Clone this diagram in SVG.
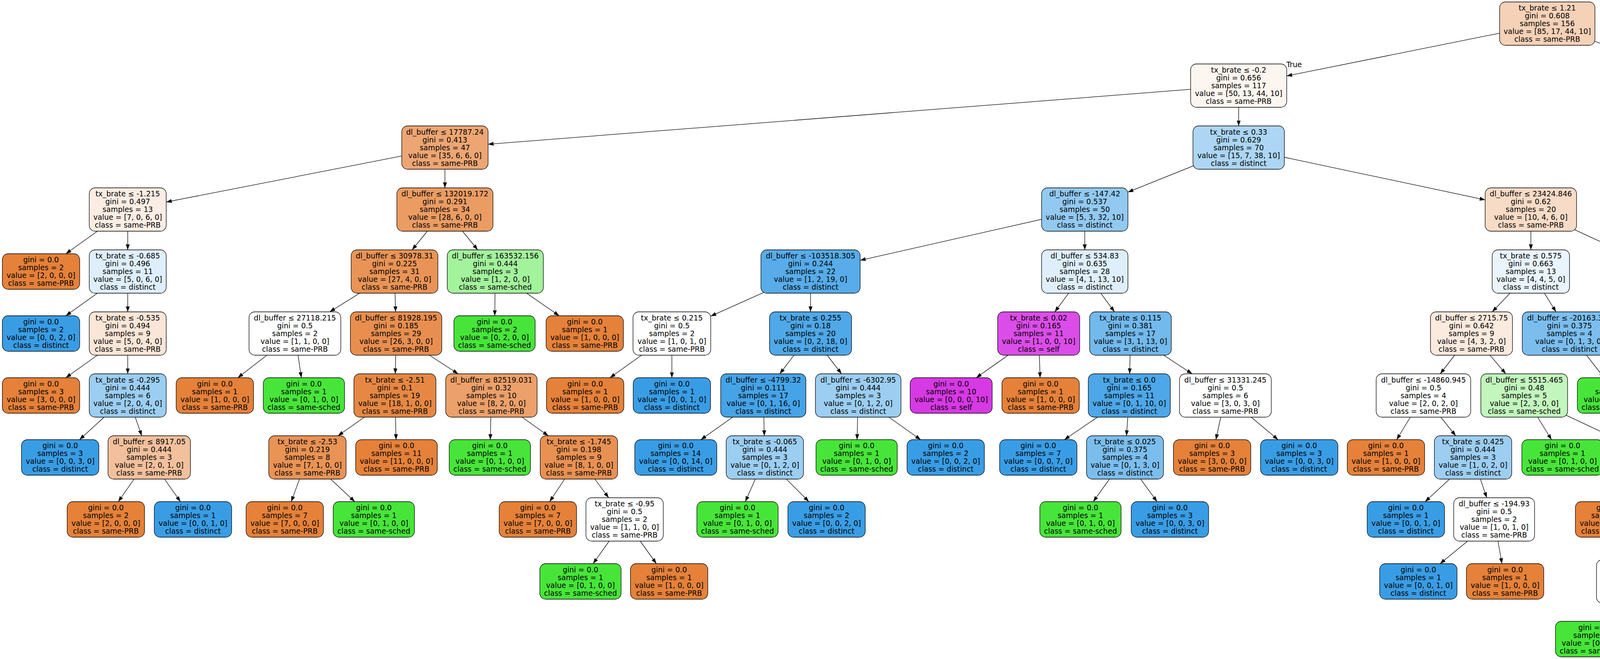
<svg xmlns="http://www.w3.org/2000/svg" width="5503" height="1688" viewBox="0 0 5503 1688">
<style>
text{font-family:"DejaVu Sans","Liberation Sans",sans-serif;font-size:18.67px;text-anchor:middle;fill:#000}
.nd rect{stroke:#000;stroke-width:1.3;rx:15px;ry:15px}
.e line{stroke:#000;stroke-width:1.3;marker-end:url(#ah)}
.o{fill:#e58139}.g{fill:#47e539}.b{fill:#399de5}.m{fill:#d739e5}.w{fill:#fff}
</style>
<defs>
<marker id="ah" viewBox="0 0 14 10" refX="14" refY="5" markerWidth="14" markerHeight="10" markerUnits="userSpaceOnUse" orient="auto"><path d="M0,0L14,5L0,10z" fill="#000"/></marker>
</defs>
<rect width="5503" height="1688" fill="#fff"/>
<g id="edges" class="e">
<line x1="3961" y1="60.5" x2="3294" y2="194.5"/>
<line x1="3961" y1="60.5" x2="4259.5" y2="171.7"/>
<line x1="3171" y1="219.25" x2="1249.5" y2="369.4"/>
<line x1="3171" y1="219.25" x2="3171" y2="322.5"/>
<line x1="1139" y1="378" x2="425.5" y2="517.5"/>
<line x1="1139" y1="378" x2="1139" y2="481.25"/>
<line x1="327" y1="536.75" x2="168.6" y2="650"/>
<line x1="327" y1="536.75" x2="327" y2="640"/>
<line x1="327" y1="695.5" x2="168.6" y2="808.75"/>
<line x1="327" y1="695.5" x2="327" y2="798.75"/>
<line x1="327" y1="854.25" x2="168.6" y2="967.5"/>
<line x1="327" y1="854.25" x2="327" y2="957.5"/>
<line x1="327" y1="1013" x2="203.6" y2="1126.25"/>
<line x1="327" y1="1013" x2="362.8" y2="1116.25"/>
<line x1="382" y1="1171.75" x2="302.8" y2="1285"/>
<line x1="382" y1="1171.75" x2="461.9" y2="1285"/>
<line x1="1139" y1="536.75" x2="1055.1" y2="640"/>
<line x1="1139" y1="536.75" x2="1222.9" y2="640"/>
<line x1="1010" y1="695.5" x2="844.1" y2="798.75"/>
<line x1="1010" y1="695.5" x2="1012.6" y2="798.75"/>
<line x1="755" y1="854.25" x2="608.8" y2="967.5"/>
<line x1="755" y1="854.25" x2="771.4" y2="967.5"/>
<line x1="1014" y1="854.25" x2="1012" y2="957.5"/>
<line x1="1014" y1="854.25" x2="1172.7" y2="957.5"/>
<line x1="1011" y1="1013" x2="865.3" y2="1116.25"/>
<line x1="1011" y1="1013" x2="1013.9" y2="1126.25"/>
<line x1="787" y1="1171.75" x2="745.6" y2="1285"/>
<line x1="787" y1="1171.75" x2="908.3" y2="1285"/>
<line x1="1258" y1="1013" x2="1255.1" y2="1126.25"/>
<line x1="1258" y1="1013" x2="1403.7" y2="1116.25"/>
<line x1="1482" y1="1171.75" x2="1407.1" y2="1285"/>
<line x1="1482" y1="1171.75" x2="1558.1" y2="1275"/>
<line x1="1599" y1="1330.5" x2="1518.4" y2="1443.75"/>
<line x1="1599" y1="1330.5" x2="1680.3" y2="1443.75"/>
<line x1="1268" y1="695.5" x2="1266.6" y2="808.75"/>
<line x1="1268" y1="695.5" x2="1431.4" y2="808.75"/>
<line x1="3171" y1="378" x2="2887.5" y2="492.2"/>
<line x1="3171" y1="378" x2="3802" y2="511.9"/>
<line x1="2777" y1="536.75" x2="2202" y2="666.8"/>
<line x1="2777" y1="536.75" x2="2777" y2="640"/>
<line x1="2075" y1="695.5" x2="1819.5" y2="809.8"/>
<line x1="2075" y1="695.5" x2="2075" y2="798.75"/>
<line x1="1720" y1="854.25" x2="1561.6" y2="967.5"/>
<line x1="1720" y1="854.25" x2="1720" y2="967.5"/>
<line x1="2075" y1="854.25" x2="1996.3" y2="957.5"/>
<line x1="2075" y1="854.25" x2="2154.3" y2="957.5"/>
<line x1="1954" y1="1013" x2="1794.2" y2="1126.25"/>
<line x1="1954" y1="1013" x2="1956.6" y2="1116.25"/>
<line x1="1958" y1="1171.75" x2="1908.1" y2="1285"/>
<line x1="1958" y1="1171.75" x2="2070.7" y2="1285"/>
<line x1="2197" y1="1013" x2="2194.1" y2="1126.25"/>
<line x1="2197" y1="1013" x2="2356.8" y2="1126.25"/>
<line x1="2777" y1="695.5" x2="2700.3" y2="798.75"/>
<line x1="2777" y1="695.5" x2="2853.1" y2="798.75"/>
<line x1="2659" y1="854.25" x2="2499.2" y2="967.5"/>
<line x1="2659" y1="854.25" x2="2662.6" y2="967.5"/>
<line x1="2894" y1="854.25" x2="2892" y2="957.5"/>
<line x1="2894" y1="854.25" x2="3052" y2="957.5"/>
<line x1="2891" y1="1013" x2="2724.8" y2="1126.25"/>
<line x1="2891" y1="1013" x2="2883.8" y2="1116.25"/>
<line x1="2880" y1="1171.75" x2="2798.7" y2="1285"/>
<line x1="2880" y1="1171.75" x2="2962" y2="1285"/>
<line x1="3137" y1="1013" x2="3112.7" y2="1126.25"/>
<line x1="3137" y1="1013" x2="3271.8" y2="1126.25"/>
<line x1="3919" y1="536.75" x2="3919" y2="640"/>
<line x1="3919" y1="536.75" x2="4146" y2="641.5"/>
<line x1="3919" y1="695.5" x2="3820.1" y2="798.75"/>
<line x1="3919" y1="695.5" x2="3983.4" y2="798.75"/>
<line x1="3767" y1="854.25" x2="3687" y2="957.5"/>
<line x1="3767" y1="854.25" x2="3854.8" y2="957.5"/>
<line x1="3644" y1="1013" x2="3575.5" y2="1126.25"/>
<line x1="3644" y1="1013" x2="3726.6" y2="1116.25"/>
<line x1="3771" y1="1171.75" x2="3648.3" y2="1285"/>
<line x1="3771" y1="1171.75" x2="3806.1" y2="1275"/>
<line x1="3825" y1="1330.5" x2="3686.6" y2="1443.75"/>
<line x1="3825" y1="1330.5" x2="3845" y2="1443.75"/>
<line x1="3902" y1="1013" x2="3971.9" y2="1126.25"/>
<line x1="3902" y1="1013" x2="4128" y2="1119.5"/>
<line x1="4239" y1="1171.75" x2="4162.7" y2="1285"/>
<line x1="4239" y1="1171.75" x2="4317.7" y2="1275"/>
<line x1="4360" y1="1330.5" x2="4255.3" y2="1433.75"/>
<line x1="4360" y1="1330.5" x2="4416.4" y2="1443.75"/>
<line x1="4199" y1="1489.25" x2="4120.8" y2="1591.5"/>
<line x1="4199" y1="1489.25" x2="4278.6" y2="1591.5"/>
<line x1="4018" y1="854.25" x2="4106.5" y2="967.5"/>
<line x1="4018" y1="854.25" x2="4271" y2="968.4"/>
<line x1="4263" y1="695.5" x2="4263" y2="808.75"/>
<line x1="4263" y1="695.5" x2="4422.1" y2="808.75"/>
<line x1="4387" y1="219.25" x2="4387" y2="322.5"/>
<line x1="4387" y1="219.25" x2="4700" y2="338.4"/>
<line x1="4387" y1="378" x2="4305" y2="491.25"/>
<line x1="4387" y1="378" x2="4467.6" y2="491.25"/>
<line x1="4804" y1="378" x2="4805.3" y2="481.25"/>
<line x1="4804" y1="378" x2="5071" y2="493.8"/>
<line x1="4806" y1="536.75" x2="4742.3" y2="640"/>
<line x1="4806" y1="536.75" x2="4899.5" y2="650"/>
<line x1="4708" y1="695.5" x2="4708" y2="808.75"/>
<line x1="4708" y1="695.5" x2="4870.7" y2="808.75"/>
<line x1="5170" y1="536.75" x2="5170" y2="650"/>
<line x1="5170" y1="536.75" x2="5331.9" y2="650"/>
</g>
<g id="edge-labels">
<text x="3313" y="171.5">True</text>
<text x="4245" y="149.5">False</text>
</g>
<rect id="black-box" x="4108" y="36" width="74" height="49" rx="15" fill="#000"/>
<g class="nd">
<g id="n0" transform="translate(3961,60.5)"><rect x="-122" y="-55.5" width="244" height="111" fill="#f5d1b7"/><text><tspan x="0" y="-33.5">tx_brate ≤ 1.21</tspan><tspan x="0" y="-13.5">gini = 0.608</tspan><tspan x="0" y="6.5">samples = 156</tspan><tspan x="0" y="26.5">value = [85, 17, 44, 10]</tspan><tspan x="0" y="46.5">class = same-PRB</tspan></text></g>
<g id="n1" transform="translate(3171,219.25)"><rect x="-123" y="-55.5" width="246" height="111" fill="#fdf5ef"/><text><tspan x="0" y="-33.5">tx_brate ≤ -0.2</tspan><tspan x="0" y="-13.5">gini = 0.656</tspan><tspan x="0" y="6.5">samples = 117</tspan><tspan x="0" y="26.5">value = [50, 13, 44, 10]</tspan><tspan x="0" y="46.5">class = same-PRB</tspan></text></g>
<g id="n2" transform="translate(1139,378)"><rect x="-110.5" y="-55.5" width="221" height="111" fill="#eda673"/><text><tspan x="0" y="-33.5">dl_buffer ≤ 17787.24</tspan><tspan x="0" y="-13.5">gini = 0.413</tspan><tspan x="0" y="6.5">samples = 47</tspan><tspan x="0" y="26.5">value = [35, 6, 6, 0]</tspan><tspan x="0" y="46.5">class = same-PRB</tspan></text></g>
<g id="n3" transform="translate(327,536.75)"><rect x="-98.5" y="-55.5" width="197" height="111" fill="#fbede3"/><text><tspan x="0" y="-33.5">tx_brate ≤ -1.215</tspan><tspan x="0" y="-13.5">gini = 0.497</tspan><tspan x="0" y="6.5">samples = 13</tspan><tspan x="0" y="26.5">value = [7, 0, 6, 0]</tspan><tspan x="0" y="46.5">class = same-PRB</tspan></text></g>
<g id="n4" transform="translate(105,695.5)"><rect class="o" x="-99" y="-45.5" width="198" height="91"/><text><tspan x="0" y="-23.5">gini = 0.0</tspan><tspan x="0" y="-3.5">samples = 2</tspan><tspan x="0" y="16.5">value = [2, 0, 0, 0]</tspan><tspan x="0" y="36.5">class = same-PRB</tspan></text></g>
<g id="n5" transform="translate(327,695.5)"><rect x="-98.5" y="-55.5" width="197" height="111" fill="#deeffb"/><text><tspan x="0" y="-33.5">tx_brate ≤ -0.685</tspan><tspan x="0" y="-13.5">gini = 0.496</tspan><tspan x="0" y="6.5">samples = 11</tspan><tspan x="0" y="26.5">value = [5, 0, 6, 0]</tspan><tspan x="0" y="46.5">class = distinct</tspan></text></g>
<g id="n6" transform="translate(105,854.25)"><rect class="b" x="-99" y="-45.5" width="198" height="91"/><text><tspan x="0" y="-23.5">gini = 0.0</tspan><tspan x="0" y="-3.5">samples = 2</tspan><tspan x="0" y="16.5">value = [0, 0, 2, 0]</tspan><tspan x="0" y="36.5">class = distinct</tspan></text></g>
<g id="n7" transform="translate(327,854.25)"><rect x="-98.5" y="-55.5" width="197" height="111" fill="#fae6d7"/><text><tspan x="0" y="-33.5">tx_brate ≤ -0.535</tspan><tspan x="0" y="-13.5">gini = 0.494</tspan><tspan x="0" y="6.5">samples = 9</tspan><tspan x="0" y="26.5">value = [5, 0, 4, 0]</tspan><tspan x="0" y="46.5">class = same-PRB</tspan></text></g>
<g id="n8" transform="translate(105,1013)"><rect class="o" x="-99" y="-45.5" width="198" height="91"/><text><tspan x="0" y="-23.5">gini = 0.0</tspan><tspan x="0" y="-3.5">samples = 3</tspan><tspan x="0" y="16.5">value = [3, 0, 0, 0]</tspan><tspan x="0" y="36.5">class = same-PRB</tspan></text></g>
<g id="n9" transform="translate(327,1013)"><rect x="-98.5" y="-55.5" width="197" height="111" fill="#9ccef2"/><text><tspan x="0" y="-33.5">tx_brate ≤ -0.295</tspan><tspan x="0" y="-13.5">gini = 0.444</tspan><tspan x="0" y="6.5">samples = 6</tspan><tspan x="0" y="26.5">value = [2, 0, 4, 0]</tspan><tspan x="0" y="46.5">class = distinct</tspan></text></g>
<g id="n10" transform="translate(154,1171.75)"><rect class="b" x="-99" y="-45.5" width="198" height="91"/><text><tspan x="0" y="-23.5">gini = 0.0</tspan><tspan x="0" y="-3.5">samples = 3</tspan><tspan x="0" y="16.5">value = [0, 0, 3, 0]</tspan><tspan x="0" y="36.5">class = distinct</tspan></text></g>
<g id="n11" transform="translate(382,1171.75)"><rect x="-105.5" y="-55.5" width="211" height="111" fill="#f2c09c"/><text><tspan x="0" y="-33.5">dl_buffer ≤ 8917.05</tspan><tspan x="0" y="-13.5">gini = 0.444</tspan><tspan x="0" y="6.5">samples = 3</tspan><tspan x="0" y="26.5">value = [2, 0, 1, 0]</tspan><tspan x="0" y="46.5">class = same-PRB</tspan></text></g>
<g id="n12" transform="translate(271,1330.5)"><rect class="o" x="-99" y="-45.5" width="198" height="91"/><text><tspan x="0" y="-23.5">gini = 0.0</tspan><tspan x="0" y="-3.5">samples = 2</tspan><tspan x="0" y="16.5">value = [2, 0, 0, 0]</tspan><tspan x="0" y="36.5">class = same-PRB</tspan></text></g>
<g id="n13" transform="translate(494,1330.5)"><rect class="b" x="-99" y="-45.5" width="198" height="91"/><text><tspan x="0" y="-23.5">gini = 0.0</tspan><tspan x="0" y="-3.5">samples = 1</tspan><tspan x="0" y="16.5">value = [0, 0, 1, 0]</tspan><tspan x="0" y="36.5">class = distinct</tspan></text></g>
<g id="n14" transform="translate(1139,536.75)"><rect x="-123" y="-55.5" width="246" height="111" fill="#eb9c63"/><text><tspan x="0" y="-33.5">dl_buffer ≤ 132019.172</tspan><tspan x="0" y="-13.5">gini = 0.291</tspan><tspan x="0" y="6.5">samples = 34</tspan><tspan x="0" y="26.5">value = [28, 6, 0, 0]</tspan><tspan x="0" y="46.5">class = same-PRB</tspan></text></g>
<g id="n15" transform="translate(1010,695.5)"><rect x="-111" y="-55.5" width="222" height="111" fill="#e99456"/><text><tspan x="0" y="-33.5">dl_buffer ≤ 30978.31</tspan><tspan x="0" y="-13.5">gini = 0.225</tspan><tspan x="0" y="6.5">samples = 31</tspan><tspan x="0" y="26.5">value = [27, 4, 0, 0]</tspan><tspan x="0" y="46.5">class = same-PRB</tspan></text></g>
<g id="n16" transform="translate(755,854.25)"><rect class="w" x="-117.5" y="-55.5" width="235" height="111"/><text><tspan x="0" y="-33.5">dl_buffer ≤ 27118.215</tspan><tspan x="0" y="-13.5">gini = 0.5</tspan><tspan x="0" y="6.5">samples = 2</tspan><tspan x="0" y="26.5">value = [1, 1, 0, 0]</tspan><tspan x="0" y="46.5">class = same-PRB</tspan></text></g>
<g id="n17" transform="translate(550,1013)"><rect class="o" x="-99" y="-45.5" width="198" height="91"/><text><tspan x="0" y="-23.5">gini = 0.0</tspan><tspan x="0" y="-3.5">samples = 1</tspan><tspan x="0" y="16.5">value = [1, 0, 0, 0]</tspan><tspan x="0" y="36.5">class = same-PRB</tspan></text></g>
<g id="n18" transform="translate(778,1013)"><rect class="g" x="-104" y="-45.5" width="208" height="91"/><text><tspan x="0" y="-23.5">gini = 0.0</tspan><tspan x="0" y="-3.5">samples = 1</tspan><tspan x="0" y="16.5">value = [0, 1, 0, 0]</tspan><tspan x="0" y="36.5">class = same-sched</tspan></text></g>
<g id="n19" transform="translate(1014,854.25)"><rect x="-117" y="-55.5" width="234" height="111" fill="#e88f50"/><text><tspan x="0" y="-33.5">dl_buffer ≤ 81928.195</tspan><tspan x="0" y="-13.5">gini = 0.185</tspan><tspan x="0" y="6.5">samples = 29</tspan><tspan x="0" y="26.5">value = [26, 3, 0, 0]</tspan><tspan x="0" y="46.5">class = same-PRB</tspan></text></g>
<g id="n20" transform="translate(1011,1013)"><rect x="-105" y="-55.5" width="210" height="111" fill="#e68844"/><text><tspan x="0" y="-33.5">tx_brate ≤ -2.51</tspan><tspan x="0" y="-13.5">gini = 0.1</tspan><tspan x="0" y="6.5">samples = 19</tspan><tspan x="0" y="26.5">value = [18, 1, 0, 0]</tspan><tspan x="0" y="46.5">class = same-PRB</tspan></text></g>
<g id="n21" transform="translate(787,1171.75)"><rect x="-99" y="-55.5" width="198" height="111" fill="#e99355"/><text><tspan x="0" y="-33.5">tx_brate ≤ -2.53</tspan><tspan x="0" y="-13.5">gini = 0.219</tspan><tspan x="0" y="6.5">samples = 8</tspan><tspan x="0" y="26.5">value = [7, 1, 0, 0]</tspan><tspan x="0" y="46.5">class = same-PRB</tspan></text></g>
<g id="n22" transform="translate(729,1330.5)"><rect class="o" x="-99" y="-45.5" width="198" height="91"/><text><tspan x="0" y="-23.5">gini = 0.0</tspan><tspan x="0" y="-3.5">samples = 7</tspan><tspan x="0" y="16.5">value = [7, 0, 0, 0]</tspan><tspan x="0" y="36.5">class = same-PRB</tspan></text></g>
<g id="n23" transform="translate(957,1330.5)"><rect class="g" x="-104" y="-45.5" width="208" height="91"/><text><tspan x="0" y="-23.5">gini = 0.0</tspan><tspan x="0" y="-3.5">samples = 1</tspan><tspan x="0" y="16.5">value = [0, 1, 0, 0]</tspan><tspan x="0" y="36.5">class = same-sched</tspan></text></g>
<g id="n24" transform="translate(1015,1171.75)"><rect class="o" x="-104.5" y="-45.5" width="209" height="91"/><text><tspan x="0" y="-23.5">gini = 0.0</tspan><tspan x="0" y="-3.5">samples = 11</tspan><tspan x="0" y="16.5">value = [11, 0, 0, 0]</tspan><tspan x="0" y="36.5">class = same-PRB</tspan></text></g>
<g id="n25" transform="translate(1258,1013)"><rect x="-117" y="-55.5" width="234" height="111" fill="#eca06a"/><text><tspan x="0" y="-33.5">dl_buffer ≤ 82519.031</tspan><tspan x="0" y="-13.5">gini = 0.32</tspan><tspan x="0" y="6.5">samples = 10</tspan><tspan x="0" y="26.5">value = [8, 2, 0, 0]</tspan><tspan x="0" y="46.5">class = same-PRB</tspan></text></g>
<g id="n26" transform="translate(1254,1171.75)"><rect class="g" x="-104" y="-45.5" width="208" height="91"/><text><tspan x="0" y="-23.5">gini = 0.0</tspan><tspan x="0" y="-3.5">samples = 1</tspan><tspan x="0" y="16.5">value = [0, 1, 0, 0]</tspan><tspan x="0" y="36.5">class = same-sched</tspan></text></g>
<g id="n27" transform="translate(1482,1171.75)"><rect x="-99" y="-55.5" width="198" height="111" fill="#e89152"/><text><tspan x="0" y="-33.5">tx_brate ≤ -1.745</tspan><tspan x="0" y="-13.5">gini = 0.198</tspan><tspan x="0" y="6.5">samples = 9</tspan><tspan x="0" y="26.5">value = [8, 1, 0, 0]</tspan><tspan x="0" y="46.5">class = same-PRB</tspan></text></g>
<g id="n28" transform="translate(1377,1330.5)"><rect class="o" x="-99" y="-45.5" width="198" height="91"/><text><tspan x="0" y="-23.5">gini = 0.0</tspan><tspan x="0" y="-3.5">samples = 7</tspan><tspan x="0" y="16.5">value = [7, 0, 0, 0]</tspan><tspan x="0" y="36.5">class = same-PRB</tspan></text></g>
<g id="n29" transform="translate(1599,1330.5)"><rect class="w" x="-99" y="-55.5" width="198" height="111"/><text><tspan x="0" y="-33.5">tx_brate ≤ -0.95</tspan><tspan x="0" y="-13.5">gini = 0.5</tspan><tspan x="0" y="6.5">samples = 2</tspan><tspan x="0" y="26.5">value = [1, 1, 0, 0]</tspan><tspan x="0" y="46.5">class = same-PRB</tspan></text></g>
<g id="n30" transform="translate(1486,1489.25)"><rect class="g" x="-104" y="-45.5" width="208" height="91"/><text><tspan x="0" y="-23.5">gini = 0.0</tspan><tspan x="0" y="-3.5">samples = 1</tspan><tspan x="0" y="16.5">value = [0, 1, 0, 0]</tspan><tspan x="0" y="36.5">class = same-sched</tspan></text></g>
<g id="n31" transform="translate(1713,1489.25)"><rect class="o" x="-99" y="-45.5" width="198" height="91"/><text><tspan x="0" y="-23.5">gini = 0.0</tspan><tspan x="0" y="-3.5">samples = 1</tspan><tspan x="0" y="16.5">value = [1, 0, 0, 0]</tspan><tspan x="0" y="36.5">class = same-PRB</tspan></text></g>
<g id="n32" transform="translate(1268,695.5)"><rect x="-123" y="-55.5" width="246" height="111" fill="#a3f29c"/><text><tspan x="0" y="-33.5">dl_buffer ≤ 163532.156</tspan><tspan x="0" y="-13.5">gini = 0.444</tspan><tspan x="0" y="6.5">samples = 3</tspan><tspan x="0" y="26.5">value = [1, 2, 0, 0]</tspan><tspan x="0" y="46.5">class = same-sched</tspan></text></g>
<g id="n33" transform="translate(1266,854.25)"><rect class="g" x="-104" y="-45.5" width="208" height="91"/><text><tspan x="0" y="-23.5">gini = 0.0</tspan><tspan x="0" y="-3.5">samples = 2</tspan><tspan x="0" y="16.5">value = [0, 2, 0, 0]</tspan><tspan x="0" y="36.5">class = same-sched</tspan></text></g>
<g id="n34" transform="translate(1497,854.25)"><rect class="o" x="-99" y="-45.5" width="198" height="91"/><text><tspan x="0" y="-23.5">gini = 0.0</tspan><tspan x="0" y="-3.5">samples = 1</tspan><tspan x="0" y="16.5">value = [1, 0, 0, 0]</tspan><tspan x="0" y="36.5">class = same-PRB</tspan></text></g>
<g id="n35" transform="translate(3171,378)"><rect x="-117" y="-55.5" width="234" height="111" fill="#acd6f4"/><text><tspan x="0" y="-33.5">tx_brate ≤ 0.33</tspan><tspan x="0" y="-13.5">gini = 0.629</tspan><tspan x="0" y="6.5">samples = 70</tspan><tspan x="0" y="26.5">value = [15, 7, 38, 10]</tspan><tspan x="0" y="46.5">class = distinct</tspan></text></g>
<g id="n36" transform="translate(2777,536.75)"><rect x="-110.5" y="-55.5" width="221" height="111" fill="#92c9f1"/><text><tspan x="0" y="-33.5">dl_buffer ≤ -147.42</tspan><tspan x="0" y="-13.5">gini = 0.537</tspan><tspan x="0" y="6.5">samples = 50</tspan><tspan x="0" y="26.5">value = [5, 3, 32, 10]</tspan><tspan x="0" y="46.5">class = distinct</tspan></text></g>
<g id="n37" transform="translate(2075,695.5)"><rect x="-127" y="-55.5" width="254" height="111" fill="#57ace9"/><text><tspan x="0" y="-33.5">dl_buffer ≤ -103518.305</tspan><tspan x="0" y="-13.5">gini = 0.244</tspan><tspan x="0" y="6.5">samples = 22</tspan><tspan x="0" y="26.5">value = [1, 2, 19, 0]</tspan><tspan x="0" y="46.5">class = distinct</tspan></text></g>
<g id="n38" transform="translate(1720,854.25)"><rect class="w" x="-99.5" y="-55.5" width="199" height="111"/><text><tspan x="0" y="-33.5">tx_brate ≤ 0.215</tspan><tspan x="0" y="-13.5">gini = 0.5</tspan><tspan x="0" y="6.5">samples = 2</tspan><tspan x="0" y="26.5">value = [1, 0, 1, 0]</tspan><tspan x="0" y="46.5">class = same-PRB</tspan></text></g>
<g id="n39" transform="translate(1498,1013)"><rect class="o" x="-99" y="-45.5" width="198" height="91"/><text><tspan x="0" y="-23.5">gini = 0.0</tspan><tspan x="0" y="-3.5">samples = 1</tspan><tspan x="0" y="16.5">value = [1, 0, 0, 0]</tspan><tspan x="0" y="36.5">class = same-PRB</tspan></text></g>
<g id="n40" transform="translate(1720,1013)"><rect class="b" x="-99" y="-45.5" width="198" height="91"/><text><tspan x="0" y="-23.5">gini = 0.0</tspan><tspan x="0" y="-3.5">samples = 1</tspan><tspan x="0" y="16.5">value = [0, 0, 1, 0]</tspan><tspan x="0" y="36.5">class = distinct</tspan></text></g>
<g id="n41" transform="translate(2075,854.25)"><rect x="-105" y="-55.5" width="210" height="111" fill="#4fa8e8"/><text><tspan x="0" y="-33.5">tx_brate ≤ 0.255</tspan><tspan x="0" y="-13.5">gini = 0.18</tspan><tspan x="0" y="6.5">samples = 20</tspan><tspan x="0" y="26.5">value = [0, 2, 18, 0]</tspan><tspan x="0" y="46.5">class = distinct</tspan></text></g>
<g id="n42" transform="translate(1954,1013)"><rect x="-109" y="-55.5" width="218" height="111" fill="#45a3e7"/><text><tspan x="0" y="-33.5">dl_buffer ≤ -4799.32</tspan><tspan x="0" y="-13.5">gini = 0.111</tspan><tspan x="0" y="6.5">samples = 17</tspan><tspan x="0" y="26.5">value = [0, 1, 16, 0]</tspan><tspan x="0" y="46.5">class = distinct</tspan></text></g>
<g id="n43" transform="translate(1730,1171.75)"><rect class="b" x="-105" y="-45.5" width="210" height="91"/><text><tspan x="0" y="-23.5">gini = 0.0</tspan><tspan x="0" y="-3.5">samples = 14</tspan><tspan x="0" y="16.5">value = [0, 0, 14, 0]</tspan><tspan x="0" y="36.5">class = distinct</tspan></text></g>
<g id="n44" transform="translate(1958,1171.75)"><rect x="-99" y="-55.5" width="198" height="111" fill="#9ccef2"/><text><tspan x="0" y="-33.5">tx_brate ≤ -0.065</tspan><tspan x="0" y="-13.5">gini = 0.444</tspan><tspan x="0" y="6.5">samples = 3</tspan><tspan x="0" y="26.5">value = [0, 1, 2, 0]</tspan><tspan x="0" y="46.5">class = distinct</tspan></text></g>
<g id="n45" transform="translate(1888,1330.5)"><rect class="g" x="-104" y="-45.5" width="208" height="91"/><text><tspan x="0" y="-23.5">gini = 0.0</tspan><tspan x="0" y="-3.5">samples = 1</tspan><tspan x="0" y="16.5">value = [0, 1, 0, 0]</tspan><tspan x="0" y="36.5">class = same-sched</tspan></text></g>
<g id="n46" transform="translate(2116,1330.5)"><rect class="b" x="-99" y="-45.5" width="198" height="91"/><text><tspan x="0" y="-23.5">gini = 0.0</tspan><tspan x="0" y="-3.5">samples = 2</tspan><tspan x="0" y="16.5">value = [0, 0, 2, 0]</tspan><tspan x="0" y="36.5">class = distinct</tspan></text></g>
<g id="n47" transform="translate(2197,1013)"><rect x="-109.5" y="-55.5" width="219" height="111" fill="#9ccef2"/><text><tspan x="0" y="-33.5">dl_buffer ≤ -6302.95</tspan><tspan x="0" y="-13.5">gini = 0.444</tspan><tspan x="0" y="6.5">samples = 3</tspan><tspan x="0" y="26.5">value = [0, 1, 2, 0]</tspan><tspan x="0" y="46.5">class = distinct</tspan></text></g>
<g id="n48" transform="translate(2193,1171.75)"><rect class="g" x="-104" y="-45.5" width="208" height="91"/><text><tspan x="0" y="-23.5">gini = 0.0</tspan><tspan x="0" y="-3.5">samples = 1</tspan><tspan x="0" y="16.5">value = [0, 1, 0, 0]</tspan><tspan x="0" y="36.5">class = same-sched</tspan></text></g>
<g id="n49" transform="translate(2421,1171.75)"><rect class="b" x="-99" y="-45.5" width="198" height="91"/><text><tspan x="0" y="-23.5">gini = 0.0</tspan><tspan x="0" y="-3.5">samples = 2</tspan><tspan x="0" y="16.5">value = [0, 0, 2, 0]</tspan><tspan x="0" y="36.5">class = distinct</tspan></text></g>
<g id="n50" transform="translate(2777,695.5)"><rect x="-110.5" y="-55.5" width="221" height="111" fill="#deeffb"/><text><tspan x="0" y="-33.5">dl_buffer ≤ 534.83</tspan><tspan x="0" y="-13.5">gini = 0.635</tspan><tspan x="0" y="6.5">samples = 28</tspan><tspan x="0" y="26.5">value = [4, 1, 13, 10]</tspan><tspan x="0" y="46.5">class = distinct</tspan></text></g>
<g id="n51" transform="translate(2659,854.25)"><rect x="-105" y="-55.5" width="210" height="111" fill="#db4de8"/><text><tspan x="0" y="-33.5">tx_brate ≤ 0.02</tspan><tspan x="0" y="-13.5">gini = 0.165</tspan><tspan x="0" y="6.5">samples = 11</tspan><tspan x="0" y="26.5">value = [1, 0, 0, 10]</tspan><tspan x="0" y="46.5">class = self</tspan></text></g>
<g id="n52" transform="translate(2435,1013)"><rect class="m" x="-105" y="-45.5" width="210" height="91"/><text><tspan x="0" y="-23.5">gini = 0.0</tspan><tspan x="0" y="-3.5">samples = 10</tspan><tspan x="0" y="16.5">value = [0, 0, 0, 10]</tspan><tspan x="0" y="36.5">class = self</tspan></text></g>
<g id="n53" transform="translate(2664,1013)"><rect class="o" x="-99" y="-45.5" width="198" height="91"/><text><tspan x="0" y="-23.5">gini = 0.0</tspan><tspan x="0" y="-3.5">samples = 1</tspan><tspan x="0" y="16.5">value = [1, 0, 0, 0]</tspan><tspan x="0" y="36.5">class = same-PRB</tspan></text></g>
<g id="n54" transform="translate(2894,854.25)"><rect x="-104.5" y="-55.5" width="209" height="111" fill="#72b9ec"/><text><tspan x="0" y="-33.5">tx_brate ≤ 0.115</tspan><tspan x="0" y="-13.5">gini = 0.381</tspan><tspan x="0" y="6.5">samples = 17</tspan><tspan x="0" y="26.5">value = [3, 1, 13, 0]</tspan><tspan x="0" y="46.5">class = distinct</tspan></text></g>
<g id="n55" transform="translate(2891,1013)"><rect x="-105" y="-55.5" width="210" height="111" fill="#4da7e8"/><text><tspan x="0" y="-33.5">tx_brate ≤ 0.0</tspan><tspan x="0" y="-13.5">gini = 0.165</tspan><tspan x="0" y="6.5">samples = 11</tspan><tspan x="0" y="26.5">value = [0, 1, 10, 0]</tspan><tspan x="0" y="46.5">class = distinct</tspan></text></g>
<g id="n56" transform="translate(2658,1171.75)"><rect class="b" x="-99" y="-45.5" width="198" height="91"/><text><tspan x="0" y="-23.5">gini = 0.0</tspan><tspan x="0" y="-3.5">samples = 7</tspan><tspan x="0" y="16.5">value = [0, 0, 7, 0]</tspan><tspan x="0" y="36.5">class = distinct</tspan></text></g>
<g id="n57" transform="translate(2880,1171.75)"><rect x="-98.5" y="-55.5" width="197" height="111" fill="#7bbeee"/><text><tspan x="0" y="-33.5">tx_brate ≤ 0.025</tspan><tspan x="0" y="-13.5">gini = 0.375</tspan><tspan x="0" y="6.5">samples = 4</tspan><tspan x="0" y="26.5">value = [0, 1, 3, 0]</tspan><tspan x="0" y="46.5">class = distinct</tspan></text></g>
<g id="n58" transform="translate(2766,1330.5)"><rect class="g" x="-104" y="-45.5" width="208" height="91"/><text><tspan x="0" y="-23.5">gini = 0.0</tspan><tspan x="0" y="-3.5">samples = 1</tspan><tspan x="0" y="16.5">value = [0, 1, 0, 0]</tspan><tspan x="0" y="36.5">class = same-sched</tspan></text></g>
<g id="n59" transform="translate(2995,1330.5)"><rect class="b" x="-99" y="-45.5" width="198" height="91"/><text><tspan x="0" y="-23.5">gini = 0.0</tspan><tspan x="0" y="-3.5">samples = 3</tspan><tspan x="0" y="16.5">value = [0, 0, 3, 0]</tspan><tspan x="0" y="36.5">class = distinct</tspan></text></g>
<g id="n60" transform="translate(3137,1013)"><rect class="w" x="-117.5" y="-55.5" width="235" height="111"/><text><tspan x="0" y="-33.5">dl_buffer ≤ 31331.245</tspan><tspan x="0" y="-13.5">gini = 0.5</tspan><tspan x="0" y="6.5">samples = 6</tspan><tspan x="0" y="26.5">value = [3, 0, 3, 0]</tspan><tspan x="0" y="46.5">class = same-PRB</tspan></text></g>
<g id="n61" transform="translate(3103,1171.75)"><rect class="o" x="-99" y="-45.5" width="198" height="91"/><text><tspan x="0" y="-23.5">gini = 0.0</tspan><tspan x="0" y="-3.5">samples = 3</tspan><tspan x="0" y="16.5">value = [3, 0, 0, 0]</tspan><tspan x="0" y="36.5">class = same-PRB</tspan></text></g>
<g id="n62" transform="translate(3326,1171.75)"><rect class="b" x="-99" y="-45.5" width="198" height="91"/><text><tspan x="0" y="-23.5">gini = 0.0</tspan><tspan x="0" y="-3.5">samples = 3</tspan><tspan x="0" y="16.5">value = [0, 0, 3, 0]</tspan><tspan x="0" y="36.5">class = distinct</tspan></text></g>
<g id="n63" transform="translate(3919,536.75)"><rect x="-117" y="-55.5" width="234" height="111" fill="#f8dbc6"/><text><tspan x="0" y="-33.5">dl_buffer ≤ 23424.846</tspan><tspan x="0" y="-13.5">gini = 0.62</tspan><tspan x="0" y="6.5">samples = 20</tspan><tspan x="0" y="26.5">value = [10, 4, 6, 0]</tspan><tspan x="0" y="46.5">class = same-PRB</tspan></text></g>
<g id="n64" transform="translate(3919,695.5)"><rect x="-99" y="-55.5" width="198" height="111" fill="#e9f4fc"/><text><tspan x="0" y="-33.5">tx_brate ≤ 0.575</tspan><tspan x="0" y="-13.5">gini = 0.663</tspan><tspan x="0" y="6.5">samples = 13</tspan><tspan x="0" y="26.5">value = [4, 4, 5, 0]</tspan><tspan x="0" y="46.5">class = distinct</tspan></text></g>
<g id="n65" transform="translate(3767,854.25)"><rect x="-105" y="-55.5" width="210" height="111" fill="#fbeade"/><text><tspan x="0" y="-33.5">dl_buffer ≤ 2715.75</tspan><tspan x="0" y="-13.5">gini = 0.642</tspan><tspan x="0" y="6.5">samples = 9</tspan><tspan x="0" y="26.5">value = [4, 3, 2, 0]</tspan><tspan x="0" y="46.5">class = same-PRB</tspan></text></g>
<g id="n66" transform="translate(3644,1013)"><rect class="w" x="-121" y="-55.5" width="242" height="111"/><text><tspan x="0" y="-33.5">dl_buffer ≤ -14860.945</tspan><tspan x="0" y="-13.5">gini = 0.5</tspan><tspan x="0" y="6.5">samples = 4</tspan><tspan x="0" y="26.5">value = [2, 0, 2, 0]</tspan><tspan x="0" y="46.5">class = same-PRB</tspan></text></g>
<g id="n67" transform="translate(3548,1171.75)"><rect class="o" x="-99" y="-45.5" width="198" height="91"/><text><tspan x="0" y="-23.5">gini = 0.0</tspan><tspan x="0" y="-3.5">samples = 1</tspan><tspan x="0" y="16.5">value = [1, 0, 0, 0]</tspan><tspan x="0" y="36.5">class = same-PRB</tspan></text></g>
<g id="n68" transform="translate(3771,1171.75)"><rect x="-99" y="-55.5" width="198" height="111" fill="#9ccef2"/><text><tspan x="0" y="-33.5">tx_brate ≤ 0.425</tspan><tspan x="0" y="-13.5">gini = 0.444</tspan><tspan x="0" y="6.5">samples = 3</tspan><tspan x="0" y="26.5">value = [1, 0, 2, 0]</tspan><tspan x="0" y="46.5">class = distinct</tspan></text></g>
<g id="n69" transform="translate(3599,1330.5)"><rect class="b" x="-99" y="-45.5" width="198" height="91"/><text><tspan x="0" y="-23.5">gini = 0.0</tspan><tspan x="0" y="-3.5">samples = 1</tspan><tspan x="0" y="16.5">value = [0, 0, 1, 0]</tspan><tspan x="0" y="36.5">class = distinct</tspan></text></g>
<g id="n70" transform="translate(3825,1330.5)"><rect class="w" x="-103.5" y="-55.5" width="207" height="111"/><text><tspan x="0" y="-33.5">dl_buffer ≤ -194.93</tspan><tspan x="0" y="-13.5">gini = 0.5</tspan><tspan x="0" y="6.5">samples = 2</tspan><tspan x="0" y="26.5">value = [1, 0, 1, 0]</tspan><tspan x="0" y="46.5">class = same-PRB</tspan></text></g>
<g id="n71" transform="translate(3631,1489.25)"><rect class="b" x="-99" y="-45.5" width="198" height="91"/><text><tspan x="0" y="-23.5">gini = 0.0</tspan><tspan x="0" y="-3.5">samples = 1</tspan><tspan x="0" y="16.5">value = [0, 0, 1, 0]</tspan><tspan x="0" y="36.5">class = distinct</tspan></text></g>
<g id="n72" transform="translate(3853,1489.25)"><rect class="o" x="-99" y="-45.5" width="198" height="91"/><text><tspan x="0" y="-23.5">gini = 0.0</tspan><tspan x="0" y="-3.5">samples = 1</tspan><tspan x="0" y="16.5">value = [1, 0, 0, 0]</tspan><tspan x="0" y="36.5">class = same-PRB</tspan></text></g>
<g id="n73" transform="translate(3902,1013)"><rect x="-111" y="-55.5" width="222" height="111" fill="#c2f6bd"/><text><tspan x="0" y="-33.5">dl_buffer ≤ 5515.465</tspan><tspan x="0" y="-13.5">gini = 0.48</tspan><tspan x="0" y="6.5">samples = 5</tspan><tspan x="0" y="26.5">value = [2, 3, 0, 0]</tspan><tspan x="0" y="46.5">class = same-sched</tspan></text></g>
<g id="n74" transform="translate(4000,1171.75)"><rect class="g" x="-104" y="-45.5" width="208" height="91"/><text><tspan x="0" y="-23.5">gini = 0.0</tspan><tspan x="0" y="-3.5">samples = 1</tspan><tspan x="0" y="16.5">value = [0, 1, 0, 0]</tspan><tspan x="0" y="36.5">class = same-sched</tspan></text></g>
<g id="n75" transform="translate(4239,1171.75)"><rect class="w" x="-111" y="-55.5" width="222" height="111"/><text><tspan x="0" y="-33.5">dl_buffer ≤ 9423.855</tspan><tspan x="0" y="-13.5">gini = 0.5</tspan><tspan x="0" y="6.5">samples = 4</tspan><tspan x="0" y="26.5">value = [2, 2, 0, 0]</tspan><tspan x="0" y="46.5">class = same-PRB</tspan></text></g>
<g id="n76" transform="translate(4132,1330.5)"><rect class="o" x="-99" y="-45.5" width="198" height="91"/><text><tspan x="0" y="-23.5">gini = 0.0</tspan><tspan x="0" y="-3.5">samples = 1</tspan><tspan x="0" y="16.5">value = [1, 0, 0, 0]</tspan><tspan x="0" y="36.5">class = same-PRB</tspan></text></g>
<g id="n77" transform="translate(4360,1330.5)"><rect x="-104" y="-55.5" width="208" height="111" fill="#a3f29c"/><text><tspan x="0" y="-33.5">tx_brate ≤ 0.515</tspan><tspan x="0" y="-13.5">gini = 0.444</tspan><tspan x="0" y="6.5">samples = 3</tspan><tspan x="0" y="26.5">value = [1, 2, 0, 0]</tspan><tspan x="0" y="46.5">class = same-sched</tspan></text></g>
<g id="n78" transform="translate(4199,1489.25)"><rect class="w" x="-112" y="-55.5" width="224" height="111"/><text><tspan x="0" y="-33.5">dl_buffer ≤ 12767.57</tspan><tspan x="0" y="-13.5">gini = 0.5</tspan><tspan x="0" y="6.5">samples = 2</tspan><tspan x="0" y="26.5">value = [1, 1, 0, 0]</tspan><tspan x="0" y="46.5">class = same-PRB</tspan></text></g>
<g id="n79" transform="translate(4086,1637)"><rect class="g" x="-104" y="-45.5" width="208" height="91"/><text><tspan x="0" y="-23.5">gini = 0.0</tspan><tspan x="0" y="-3.5">samples = 1</tspan><tspan x="0" y="16.5">value = [0, 1, 0, 0]</tspan><tspan x="0" y="36.5">class = same-sched</tspan></text></g>
<g id="n80" transform="translate(4314,1637)"><rect class="o" x="-99" y="-45.5" width="198" height="91"/><text><tspan x="0" y="-23.5">gini = 0.0</tspan><tspan x="0" y="-3.5">samples = 1</tspan><tspan x="0" y="16.5">value = [1, 0, 0, 0]</tspan><tspan x="0" y="36.5">class = same-PRB</tspan></text></g>
<g id="n81" transform="translate(4439,1489.25)"><rect class="g" x="-104" y="-45.5" width="208" height="91"/><text><tspan x="0" y="-23.5">gini = 0.0</tspan><tspan x="0" y="-3.5">samples = 1</tspan><tspan x="0" y="16.5">value = [0, 1, 0, 0]</tspan><tspan x="0" y="36.5">class = same-sched</tspan></text></g>
<g id="n82" transform="translate(4018,854.25)"><rect x="-121" y="-55.5" width="242" height="111" fill="#7bbeee"/><text><tspan x="0" y="-33.5">dl_buffer ≤ -20163.336</tspan><tspan x="0" y="-13.5">gini = 0.375</tspan><tspan x="0" y="6.5">samples = 4</tspan><tspan x="0" y="26.5">value = [0, 1, 3, 0]</tspan><tspan x="0" y="46.5">class = distinct</tspan></text></g>
<g id="n83" transform="translate(4142,1013)"><rect class="g" x="-104" y="-45.5" width="208" height="91"/><text><tspan x="0" y="-23.5">gini = 0.0</tspan><tspan x="0" y="-3.5">samples = 1</tspan><tspan x="0" y="16.5">value = [0, 1, 0, 0]</tspan><tspan x="0" y="36.5">class = same-sched</tspan></text></g>
<g id="n84" transform="translate(4370,1013)"><rect class="b" x="-99" y="-45.5" width="198" height="91"/><text><tspan x="0" y="-23.5">gini = 0.0</tspan><tspan x="0" y="-3.5">samples = 3</tspan><tspan x="0" y="16.5">value = [0, 0, 3, 0]</tspan><tspan x="0" y="36.5">class = distinct</tspan></text></g>
<g id="n85" transform="translate(4263,695.5)"><rect x="-117" y="-55.5" width="234" height="111" fill="#e9965a"/><text><tspan x="0" y="-33.5">dl_buffer ≤ 37220.141</tspan><tspan x="0" y="-13.5">gini = 0.245</tspan><tspan x="0" y="6.5">samples = 7</tspan><tspan x="0" y="26.5">value = [6, 0, 1, 0]</tspan><tspan x="0" y="46.5">class = same-PRB</tspan></text></g>
<g id="n86" transform="translate(4263,854.25)"><rect class="o" x="-99" y="-45.5" width="198" height="91"/><text><tspan x="0" y="-23.5">gini = 0.0</tspan><tspan x="0" y="-3.5">samples = 6</tspan><tspan x="0" y="16.5">value = [6, 0, 0, 0]</tspan><tspan x="0" y="36.5">class = same-PRB</tspan></text></g>
<g id="n87" transform="translate(4486,854.25)"><rect class="b" x="-99" y="-45.5" width="198" height="91"/><text><tspan x="0" y="-23.5">gini = 0.0</tspan><tspan x="0" y="-3.5">samples = 1</tspan><tspan x="0" y="16.5">value = [0, 0, 1, 0]</tspan><tspan x="0" y="36.5">class = distinct</tspan></text></g>
<g id="n88" transform="translate(4387,219.25)"><rect x="-127.5" y="-55.5" width="255" height="111" fill="#e88f50"/><text><tspan x="0" y="-33.5">dl_buffer ≤ -158474.422</tspan><tspan x="0" y="-13.5">gini = 0.184</tspan><tspan x="0" y="6.5">samples = 39</tspan><tspan x="0" y="26.5">value = [35, 4, 0, 0]</tspan><tspan x="0" y="46.5">class = same-PRB</tspan></text></g>
<g id="n89" transform="translate(4387,378)"><rect x="-103.5" y="-55.5" width="207" height="111" fill="#a3f29c"/><text><tspan x="0" y="-33.5">tx_brate ≤ 2.135</tspan><tspan x="0" y="-13.5">gini = 0.444</tspan><tspan x="0" y="6.5">samples = 3</tspan><tspan x="0" y="26.5">value = [1, 2, 0, 0]</tspan><tspan x="0" y="46.5">class = same-sched</tspan></text></g>
<g id="n90" transform="translate(4272,536.75)"><rect class="g" x="-104" y="-45.5" width="208" height="91"/><text><tspan x="0" y="-23.5">gini = 0.0</tspan><tspan x="0" y="-3.5">samples = 2</tspan><tspan x="0" y="16.5">value = [0, 2, 0, 0]</tspan><tspan x="0" y="36.5">class = same-sched</tspan></text></g>
<g id="n91" transform="translate(4500,536.75)"><rect class="o" x="-99" y="-45.5" width="198" height="91"/><text><tspan x="0" y="-23.5">gini = 0.0</tspan><tspan x="0" y="-3.5">samples = 1</tspan><tspan x="0" y="16.5">value = [1, 0, 0, 0]</tspan><tspan x="0" y="36.5">class = same-PRB</tspan></text></g>
<g id="n92" transform="translate(4804,378)"><rect x="-104" y="-55.5" width="208" height="111" fill="#e68845"/><text><tspan x="0" y="-33.5">tx_brate ≤ 2.935</tspan><tspan x="0" y="-13.5">gini = 0.105</tspan><tspan x="0" y="6.5">samples = 36</tspan><tspan x="0" y="26.5">value = [34, 2, 0, 0]</tspan><tspan x="0" y="46.5">class = same-PRB</tspan></text></g>
<g id="n93" transform="translate(4806,536.75)"><rect x="-127" y="-55.5" width="254" height="111" fill="#e6853f"/><text><tspan x="0" y="-33.5">dl_buffer ≤ -122901.391</tspan><tspan x="0" y="-13.5">gini = 0.057</tspan><tspan x="0" y="6.5">samples = 34</tspan><tspan x="0" y="26.5">value = [33, 1, 0, 0]</tspan><tspan x="0" y="46.5">class = same-PRB</tspan></text></g>
<g id="n94" transform="translate(4708,695.5)"><rect x="-98.5" y="-55.5" width="197" height="111" fill="#f2c09c"/><text><tspan x="0" y="-33.5">tx_brate ≤ 2.245</tspan><tspan x="0" y="-13.5">gini = 0.444</tspan><tspan x="0" y="6.5">samples = 3</tspan><tspan x="0" y="26.5">value = [2, 1, 0, 0]</tspan><tspan x="0" y="46.5">class = same-PRB</tspan></text></g>
<g id="n95" transform="translate(4708,854.25)"><rect class="o" x="-99" y="-45.5" width="198" height="91"/><text><tspan x="0" y="-23.5">gini = 0.0</tspan><tspan x="0" y="-3.5">samples = 2</tspan><tspan x="0" y="16.5">value = [2, 0, 0, 0]</tspan><tspan x="0" y="36.5">class = same-PRB</tspan></text></g>
<g id="n96" transform="translate(4936,854.25)"><rect class="g" x="-104" y="-45.5" width="208" height="91"/><text><tspan x="0" y="-23.5">gini = 0.0</tspan><tspan x="0" y="-3.5">samples = 1</tspan><tspan x="0" y="16.5">value = [0, 1, 0, 0]</tspan><tspan x="0" y="36.5">class = same-sched</tspan></text></g>
<g id="n97" transform="translate(4937,695.5)"><rect class="o" x="-104.5" y="-45.5" width="209" height="91"/><text><tspan x="0" y="-23.5">gini = 0.0</tspan><tspan x="0" y="-3.5">samples = 31</tspan><tspan x="0" y="16.5">value = [31, 0, 0, 0]</tspan><tspan x="0" y="36.5">class = same-PRB</tspan></text></g>
<g id="n98" transform="translate(5170,536.75)"><rect class="w" x="-99" y="-55.5" width="198" height="111"/><text><tspan x="0" y="-33.5">tx_brate ≤ 3.32</tspan><tspan x="0" y="-13.5">gini = 0.5</tspan><tspan x="0" y="6.5">samples = 2</tspan><tspan x="0" y="26.5">value = [1, 1, 0, 0]</tspan><tspan x="0" y="46.5">class = same-PRB</tspan></text></g>
<g id="n99" transform="translate(5170,695.5)"><rect class="g" x="-104" y="-45.5" width="208" height="91"/><text><tspan x="0" y="-23.5">gini = 0.0</tspan><tspan x="0" y="-3.5">samples = 1</tspan><tspan x="0" y="16.5">value = [0, 1, 0, 0]</tspan><tspan x="0" y="36.5">class = same-sched</tspan></text></g>
<g id="n100" transform="translate(5397,695.5)"><rect class="o" x="-99" y="-45.5" width="198" height="91"/><text><tspan x="0" y="-23.5">gini = 0.0</tspan><tspan x="0" y="-3.5">samples = 1</tspan><tspan x="0" y="16.5">value = [1, 0, 0, 0]</tspan><tspan x="0" y="36.5">class = same-PRB</tspan></text></g>
</g>
</svg>
